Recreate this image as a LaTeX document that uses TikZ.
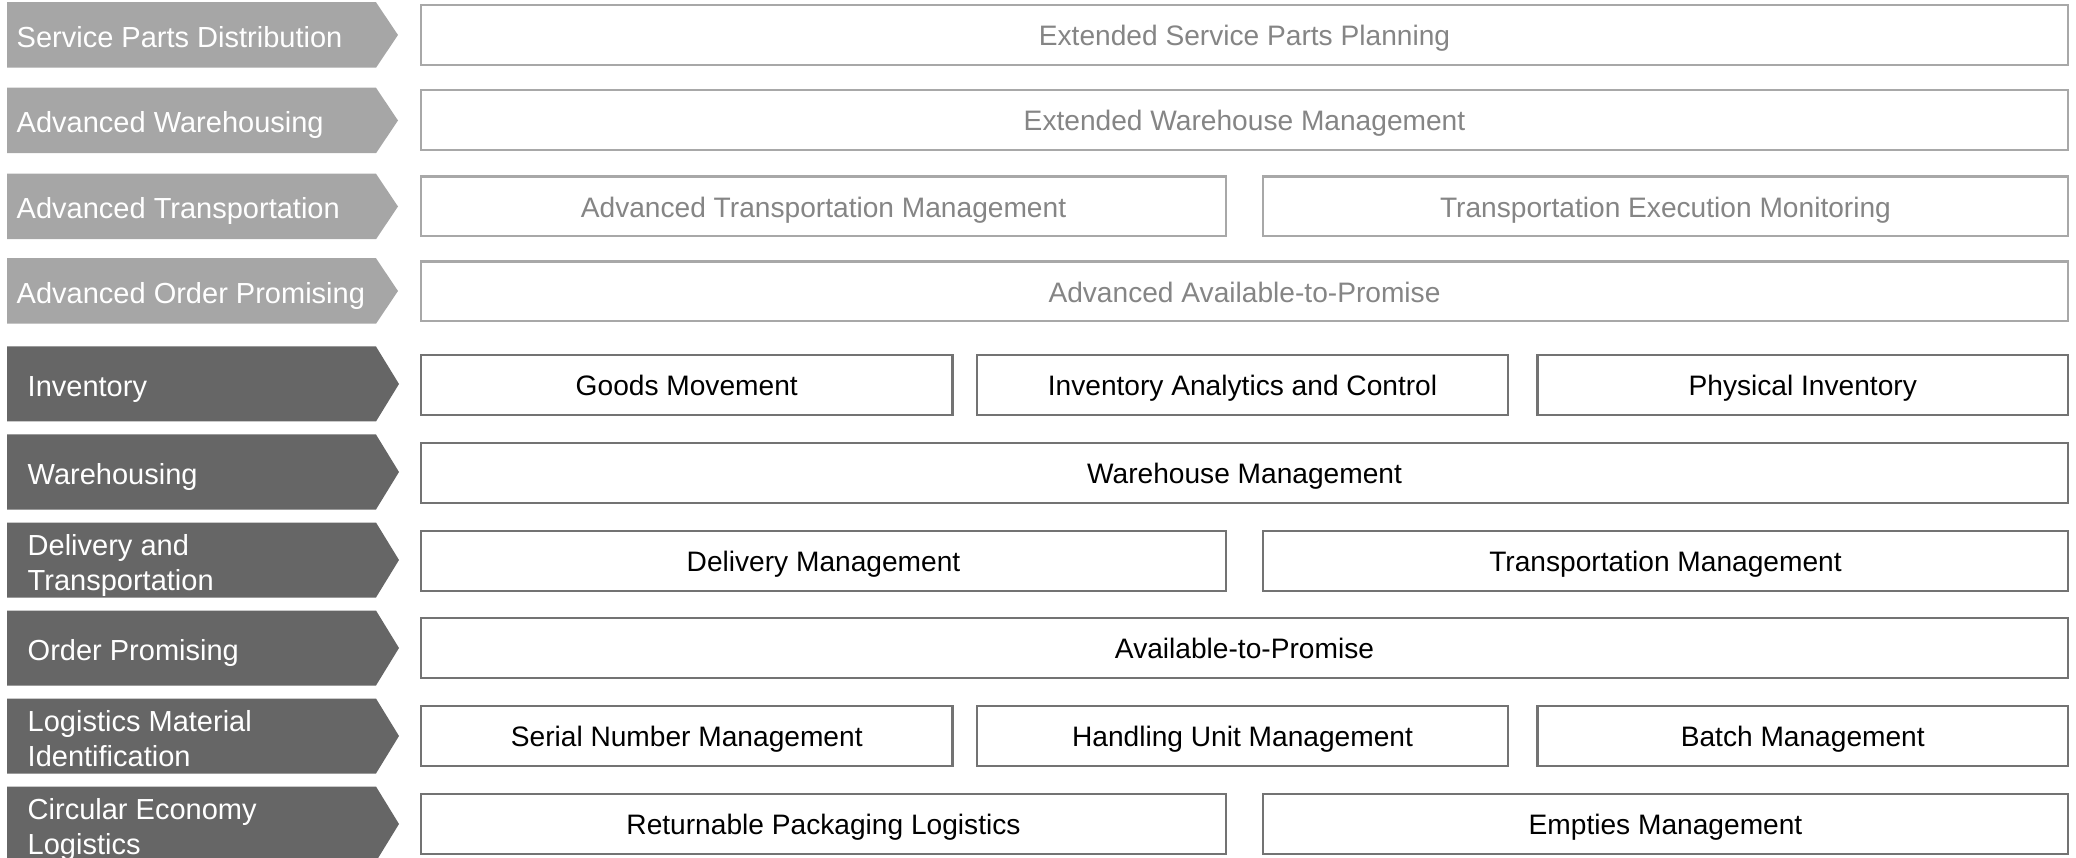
\documentclass[tikz,border=0pt]{standalone}
\usepackage{fontspec}
\setmainfont{Liberation Sans}
\usetikzlibrary{positioning}
\definecolor{extfill}{HTML}{A6A6A6}
\definecolor{corefill}{HTML}{666666}
\definecolor{extline}{HTML}{A8A8A8}
\definecolor{exttext}{HTML}{858585}
\definecolor{coreline}{HTML}{737373}
\tikzstyle{extarrow}=[fill=extfill]
\tikzstyle{corearrow}=[fill=corefill]
\tikzstyle{arealabel}=[anchor=west,inner sep=0pt,text=white,align=left,font=\fontsize{8.25}{10.1}\selectfont]
\tikzstyle{oneline}=[text height=7pt,text depth=0pt]
\tikzstyle{twoline}=[anchor=north west,yshift=0.265cm]
\tikzstyle{extbox}=[draw=extline,line width=0.7pt,fill=white,minimum height=0.595cm,inner sep=0pt,text height=6.2pt,text depth=0pt,text=exttext,font=\fontsize{8}{10}\selectfont]
\tikzstyle{corebox}=[extbox,draw=coreline,text=black]

\begin{document}
\begin{tikzpicture}[x=0.01cm,y=-0.01cm]
    \useasboundingbox (0,0) rectangle (2076,858);

    % extended areas (light)
    \foreach \y/\name/\txt in {35/spd/Service Parts Distribution, 120.5/aw/Advanced Warehousing, 206.5/at/Advanced Transportation, 291/aop/Advanced Order Promising}
    {
        \fill[extarrow] (7,{\y-32.75}) -- (376,{\y-32.75}) -- (398,\y) -- (376,{\y+32.75}) -- (7,{\y+32.75}) -- cycle;
        \node[arealabel,oneline] (\name) at (16,\y) {\txt};
    }

    % core areas (dark)
    \foreach \y/\name/\txt/\sty in {384/inv/Inventory/oneline, 472/wh/Warehousing/oneline, 560/dt/{Delivery and\\Transportation}/twoline, 648/op/Order Promising/oneline, 736/lmi/{Logistics Material\\Identification}/twoline, 824/cel/{Circular Economy\\Logistics}/twoline}
    {
        \fill[corearrow] (7,{\y-37.5}) -- (376,{\y-37.5}) -- (399,\y) -- (376,{\y+37.5}) -- (7,{\y+37.5}) -- cycle;
        \node[arealabel,\sty] (\name) at (27,\y) {\txt};
    }

    % extended capabilities
    \foreach \x/\y/\w/\name/\txt in {1244.5/35/1647/esp/Extended Service Parts Planning, 1244.5/120/1647/ewm/Extended Warehouse Management, 823.5/206.5/805/atm/Advanced Transportation Management, 1665.5/206.5/805/tem/Transportation Execution Monitoring, 1244.5/291.5/1647/aatp/Advanced Available-to-Promise}
        \node[extbox,minimum width=\w*0.01cm] (\name) at (\x,\y) {\txt};

    % core capabilities
    \foreach \x/\y/\w/\name/\txt in {686.75/385/531.5/gm/Goods Movement, 1242.5/385/531/iac/Inventory Analytics and Control, 1802.75/385/530.5/pi/Physical Inventory, 1244.5/473/1647/whm/Warehouse Management, 823.5/561/805/dm/Delivery Management, 1665.5/561/805/tm/Transportation Management, 1244.5/648/1647/atp/Available-to-Promise, 686.75/736/531.5/snm/Serial Number Management, 1242.5/736/531/hum/Handling Unit Management, 1802.75/736/530.5/bm/Batch Management, 823.5/824/805/rpl/Returnable Packaging Logistics, 1665.5/824/805/em/Empties Management}
        \node[corebox,minimum width=\w*0.01cm] (\name) at (\x,\y) {\txt};

\end{tikzpicture}
\end{document}
